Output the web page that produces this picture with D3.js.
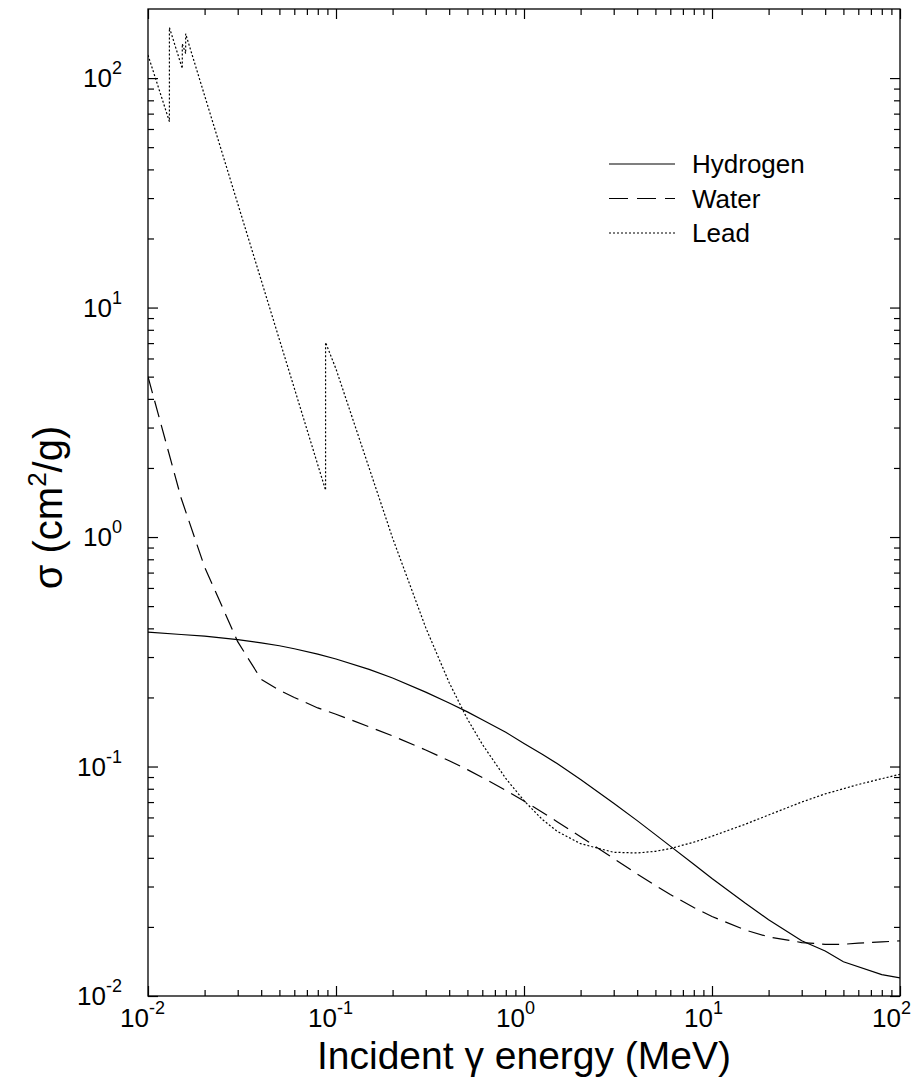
<!DOCTYPE html>
<html>
<head>
<meta charset="utf-8">
<script src="https://cdn.jsdelivr.net/npm/d3@7"></script>
<style>
  body { margin: 0; background: #fff; }
  text { font-family: "Liberation Sans", Arial, sans-serif; fill: #000; }
</style>
</head>
<body>
<div id="chart"></div>
<script>
/***********************************************************************/
//data (energy in MeV, sigma in cm^2/g)
var hydrogenEnergy = [0.01, 0.015, 0.02, 0.03, 0.04, 0.05, 0.06, 0.08, 0.1, 0.15, 0.2, 0.3, 0.4, 0.5, 0.6, 0.8,
  1, 1.25, 1.5, 2, 3, 4, 5, 6, 8, 10, 15, 20, 30, 40, 50, 80, 100];
var hydrogenSigma = [0.385, 0.376, 0.370, 0.357, 0.346, 0.336, 0.326, 0.309, 0.294, 0.265, 0.243, 0.211, 0.189, 0.173, 0.160, 0.141,
  0.126, 0.113, 0.103, 0.0877, 0.0692, 0.0581, 0.0505, 0.0450, 0.0375, 0.0325, 0.0254, 0.0215, 0.0174, 0.0157, 0.0141, 0.0124, 0.0120];

var waterEnergy = [0.01, 0.015, 0.02, 0.03, 0.04, 0.05, 0.06, 0.08, 0.1, 0.15, 0.2, 0.3, 0.4, 0.5, 0.6, 0.8,
  1, 1.25, 1.5, 2, 3, 4, 5, 6, 8, 10, 15, 20, 30, 40, 50, 60, 80, 100];
var waterSigma = [5.0, 1.48, 0.74, 0.35, 0.24, 0.215, 0.200, 0.180, 0.169, 0.149, 0.136, 0.118, 0.106, 0.0969, 0.0896, 0.0787,
  0.0707, 0.0632, 0.0575, 0.0494, 0.0397, 0.0340, 0.0303, 0.0277, 0.0243, 0.0222, 0.0194, 0.0181, 0.0171, 0.0168, 0.0168, 0.0170, 0.0172, 0.0174];

var leadEnergy = [0.01, 0.013, 0.013, 0.01522, 0.01522, 0.01586, 0.01586, 0.088, 0.088, 0.1, 0.15, 0.2, 0.3, 0.4, 0.5, 0.6, 0.8,
  1, 1.25, 1.5, 2, 3, 4, 5, 6, 8, 10, 15, 20, 30, 40, 50, 60, 80, 100];
var leadSigma = [126, 64.6, 166, 110, 141, 128, 156, 1.6, 7.05, 5.4, 2.0, 0.99, 0.403, 0.232, 0.161, 0.125, 0.0887,
  0.0710, 0.0588, 0.0522, 0.0461, 0.0423, 0.0420, 0.0427, 0.0439, 0.0468, 0.0497, 0.0560, 0.0615, 0.0700, 0.0760, 0.0800, 0.0835, 0.0885, 0.0925];

var seriesNames = ['Hydrogen', 'Water', 'Lead'];

//tick values and labels
var xDecades = [0.01, 0.1, 1, 10, 100];
var xExponents = ['-2', '-1', '0', '1', '2'];
var yDecades = [0.01, 0.1, 1, 10, 100];
var yExponents = ['-2', '-1', '0', '1', '2'];
var minorSteps = [2, 3, 4, 5, 6, 7, 8, 9];

/***********************************************************************/
//static svg/chart variables
var svgWidth = 919;
var svgHeight = 1081;

var margin = {
  top: 9,
  right: 19,
  bottom: 85,
  left: 148
};

var chartWidth = svgWidth - margin.left - margin.right;
var chartHeight = svgHeight - margin.top - margin.bottom;

var svg = d3.select('#chart')
  .append('svg')
  .attr('width', svgWidth)
  .attr('height', svgHeight);

var chartGroup = svg.append('g')
  .attr('transform', `translate(${margin.left}, ${margin.top})`);

/***********************************************************************/
//scales
var xScale = d3.scaleLog()
  .domain([0.01, 100])
  .range([0, chartWidth]);

var yScale = d3.scaleLog()
  .domain([0.01, 200])
  .range([chartHeight, 0]);

//minor tick values built from the decades
var xMinor = [];
xDecades.slice(0, -1).forEach(d => minorSteps.forEach(m => xMinor.push(d * m)));
var yMinor = [];
yDecades.slice(0, -1).forEach(d => minorSteps.forEach(m => yMinor.push(d * m)));

/***********************************************************************/
//inward ticks on all four sides
function addTicks(axis, values, size, transform) {
  var g = chartGroup.append('g')
    .attr('transform', transform)
    .call(axis.tickValues(values).tickSize(size).tickFormat(''));
  g.select('.domain').remove();
  g.selectAll('line').attr('stroke', '#000').attr('stroke-width', 1.2);
}

addTicks(d3.axisBottom(xScale), xDecades, -10, `translate(0, ${chartHeight})`);
addTicks(d3.axisBottom(xScale), xMinor, -6, `translate(0, ${chartHeight})`);
addTicks(d3.axisTop(xScale), xDecades, -10, 'translate(0, 0)');
addTicks(d3.axisTop(xScale), xMinor, -6, 'translate(0, 0)');
addTicks(d3.axisLeft(yScale), yDecades, -10, 'translate(0, 0)');
addTicks(d3.axisLeft(yScale), yMinor, -6, 'translate(0, 0)');
addTicks(d3.axisRight(yScale), yDecades, -10, `translate(${chartWidth}, 0)`);
addTicks(d3.axisRight(yScale), yMinor, -6, `translate(${chartWidth}, 0)`);

//frame
chartGroup.append('rect')
  .attr('width', chartWidth)
  .attr('height', chartHeight)
  .attr('fill', 'none')
  .attr('stroke', '#000')
  .attr('stroke-width', 1.3);

/***********************************************************************/
//tick labels as 10 with superscript exponent
xDecades.forEach(function (d, i) {
  var t = chartGroup.append('text')
    .attr('x', xScale(d) - 28)
    .attr('y', chartHeight + 31)
    .attr('font-size', 26);
  t.append('tspan').text('10');
  t.append('tspan').attr('dy', -13).attr('font-size', 18).text(xExponents[i]);
});

yDecades.forEach(function (d, i) {
  var t = chartGroup.append('text')
    .attr('x', -26)
    .attr('y', yScale(d) + 9)
    .attr('text-anchor', 'end')
    .attr('font-size', 26);
  t.append('tspan').text('10');
  t.append('tspan').attr('dy', -13).attr('font-size', 18).text(yExponents[i]);
});

//axis titles
chartGroup.append('text')
  .attr('x', chartWidth / 2)
  .attr('y', chartHeight + 73)
  .attr('text-anchor', 'middle')
  .attr('font-size', 39)
  .text('Incident \u03B3 energy (MeV)');

var yTitle = chartGroup.append('text')
  .attr('text-anchor', 'middle')
  .attr('font-size', 40)
  .attr('transform', `translate(${62 - margin.left}, ${chartHeight / 2 + 5}) rotate(-90)`);
yTitle.append('tspan').text('\u03C3 (cm');
yTitle.append('tspan').attr('dy', -16).attr('font-size', 26).text('2');
yTitle.append('tspan').attr('dy', 16).text('/g)');

/***********************************************************************/
//curves
var styles = [
  { dash: null, data: d3.zip(hydrogenEnergy, hydrogenSigma) },
  { dash: '17,8', data: d3.zip(waterEnergy, waterSigma) },
  { dash: '2,2', data: d3.zip(leadEnergy, leadSigma) }
];

chartGroup.append('clipPath')
  .attr('id', 'plotClip')
  .append('rect')
  .attr('width', chartWidth)
  .attr('height', chartHeight);

var line = d3.line()
  .x(d => xScale(d[0]))
  .y(d => yScale(d[1]));

chartGroup.selectAll('.curve')
  .data(styles)
  .enter()
  .append('path')
  .attr('class', 'curve')
  .attr('clip-path', 'url(#plotClip)')
  .attr('d', d => line(d.data))
  .attr('fill', 'none')
  .attr('stroke', '#000')
  .attr('stroke-width', 1.2)
  .attr('stroke-dasharray', d => d.dash);

/***********************************************************************/
//legend
var legendDash = [null, '19,9', '2,2'];
var legendGroup = chartGroup.append('g')
  .attr('transform', `translate(${609 - margin.left}, ${164 - margin.top})`);

seriesNames.forEach(function (name, i) {
  legendGroup.append('line')
    .attr('x1', 0)
    .attr('x2', 66)
    .attr('y1', i * 34.5)
    .attr('y2', i * 34.5)
    .attr('stroke', '#000')
    .attr('stroke-width', 1.2)
    .attr('stroke-dasharray', legendDash[i]);
  legendGroup.append('text')
    .attr('x', 83)
    .attr('y', i * 34.5 + 9)
    .attr('font-size', 26)
    .text(name);
});
</script>
</body>
</html>
